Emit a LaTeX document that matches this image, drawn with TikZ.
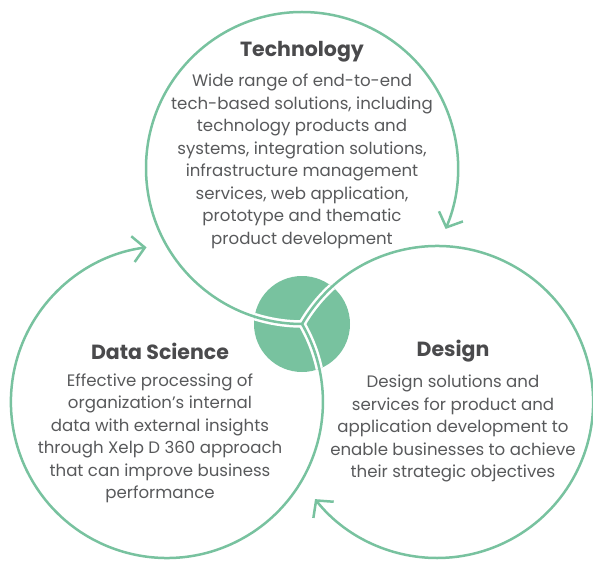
\documentclass[tikz,border=0pt]{standalone}
\usepackage{fontspec}
\setmainfont{Poppins}
\usetikzlibrary{arrows.meta}
\definecolor{leaf}{HTML}{78C29F}
\definecolor{ink}{HTML}{58595B}
\definecolor{darkink}{HTML}{4A4A4C}
\begin{document}
\begin{tikzpicture}[x=1pt,y=1pt,
		ring/.style={leaf,line width=2.5pt,-{Straight Barb[length=12pt,width=26pt,line width=2.5pt]}},
		halo/.style={white,line width=7.5pt},
		title/.style={darkink,font=\fontsize{20.5}{24}\selectfont\bfseries},
		body/.style={ink,align=center,font=\fontsize{16.6}{22.5}\selectfont}]
	\useasboundingbox (0,0) rectangle (593,560);
	\coordinate (P) at (302,236);
	\coordinate (T) at (302,392);
	\coordinate (L) at (166.9,158);
	\coordinate (R) at (437.1,158);
	% centre disc with white seams
	\fill[leaf] (P) circle[radius=48];
	\begin{scope}
		\clip (P) circle[radius=48];
		\draw[halo] (T) ++(270:156) arc[start angle=270,delta angle=-60,radius=156];
		\draw[halo] (L) ++(30:156) arc[start angle=30,delta angle=-60,radius=156];
		\draw[halo] (R) ++(150:156) arc[start angle=150,delta angle=-60,radius=156];
	\end{scope}
	% the three rings
	\draw[ring] (T) ++(270:156) arc[start angle=270,end angle=-23,radius=156];
	\draw[ring] (L) ++(30:156) arc[start angle=30,end angle=-262.5,radius=156];
	\draw[ring] (R) ++(150:156) arc[start angle=150,end angle=-141.5,radius=156];
	% texts
	\node[title] (tech) at (302,508) {Technology};
	\node[body] (techtext) at (302,398.5) {Wide range of end-to-end\\tech-based solutions, including\\technology products and\\systems, integration solutions,\\infrastructure management\\services, web application,\\prototype and thematic\\product development};
	\node[title] (data) at (160,209) {Data Science};
	\node[body] (datatext) at (160,121.5) {Effective processing of\\organization’s internal\\data with external insights\\through Xelp D 360 approach\\that can improve business\\performance};
	\node[title] (design) at (453,209) {Design};
	\node[body] (designtext) at (453,131.5) {Design solutions and\\services for product and\\application development to\\enable businesses to achieve\\their strategic objectives};
\end{tikzpicture}
\end{document}
